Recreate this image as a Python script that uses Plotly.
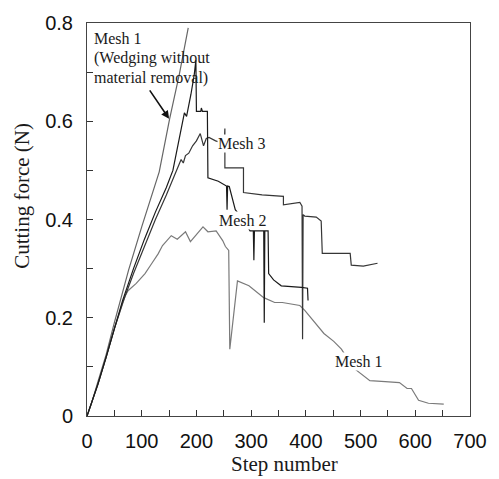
import plotly.graph_objects as go

# ---- data ----
wedge_steps = [0, 8, 20, 35, 50, 76, 100, 118, 132, 151, 169, 185]
wedge_force = [0, 0.025, 0.07, 0.125, 0.19, 0.297, 0.385, 0.45, 0.497, 0.605, 0.697, 0.79]

mesh1_steps = [0, 8, 20, 35, 50, 70, 75, 90, 106, 118, 130, 138, 146, 154, 165, 172, 180, 189,
               200, 212, 221, 236, 248, 253, 259, 261, 275, 296, 323, 343, 357, 389, 398, 416,
               433, 451, 465, 487, 517, 545, 571, 585, 593, 606, 624, 652]
mesh1_force = [0, 0.025, 0.065, 0.12, 0.178, 0.245, 0.255, 0.27, 0.29, 0.31, 0.33, 0.347, 0.358,
               0.367, 0.36, 0.368, 0.375, 0.355, 0.37, 0.385, 0.375, 0.377, 0.357, 0.345, 0.337,
               0.136, 0.275, 0.265, 0.241, 0.231, 0.231, 0.225, 0.215, 0.19, 0.168, 0.152, 0.136,
               0.098, 0.072, 0.07, 0.068, 0.056, 0.056, 0.032, 0.026, 0.024]

mesh2_steps = [0, 8, 20, 35, 50, 65, 85, 105, 125, 145, 157, 168, 178, 182, 185, 190, 196, 199,
               200, 208, 209, 211, 220, 221, 240, 253, 255, 256, 257, 260, 271, 285, 298, 304,
               305, 306, 323, 324, 325, 331, 332, 341, 355, 392, 403, 404]
mesh2_force = [0, 0.025, 0.065, 0.12, 0.18, 0.235, 0.30, 0.36, 0.415, 0.465, 0.50, 0.56, 0.617,
               0.61, 0.625, 0.655, 0.695, 0.724, 0.62, 0.62, 0.627, 0.62, 0.62, 0.485, 0.478,
               0.47, 0.468, 0.42, 0.468, 0.467, 0.42, 0.40, 0.377, 0.377, 0.317, 0.377, 0.377,
               0.19, 0.377, 0.377, 0.29, 0.277, 0.265, 0.262, 0.26, 0.235]

mesh3_steps = [0, 8, 20, 35, 50, 65, 85, 105, 125, 145, 160, 172, 176, 180, 186, 193, 200, 207,
               213, 218, 223, 235, 251, 252, 252, 286, 286, 320, 359, 359, 389, 393, 394, 395,
               398, 419, 428, 430, 481, 483, 505, 531]
mesh3_force = [0, 0.025, 0.065, 0.12, 0.178, 0.23, 0.29, 0.345, 0.40, 0.45, 0.49, 0.522, 0.515,
               0.53, 0.535, 0.55, 0.56, 0.575, 0.55, 0.565, 0.567, 0.56, 0.555, 0.585, 0.505,
               0.505, 0.455, 0.45, 0.447, 0.43, 0.435, 0.427, 0.156, 0.41, 0.407, 0.405, 0.397,
               0.331, 0.331, 0.307, 0.305, 0.311]

x_ticks = [0, 100, 200, 300, 400, 500, 600, 700]
x_ticktext = ["0", "100", "200", "300", "400", "500", "600", "700"]
y_ticks = [0, 0.2, 0.4, 0.6, 0.8]
y_ticktext = ["0", "0.2", "0.4", "0.6", "0.8"]

fig = go.Figure()
series = [
    (mesh1_steps, mesh1_force, "#7a7a7a"),
    (wedge_steps, wedge_force, "#666666"),
    (mesh3_steps, mesh3_force, "#363636"),
    (mesh2_steps, mesh2_force, "#1a1a1a"),
]
for xs, ys, col in series:
    fig.add_trace(go.Scatter(x=xs, y=ys, mode="lines", line=dict(color=col, width=1.2),
                             hoverinfo="skip", showlegend=False))

serif = "Liberation Serif, Times New Roman, serif"
sans = "Liberation Sans, Arial, sans-serif"

ann = [
    dict(x=9.4, y=0.768, text="Mesh 1"),
    dict(x=9.4, y=0.728, text="(Wedging without"),
    dict(x=9.4, y=0.688, text="material removal)"),
]
annotations = []
for a in ann:
    annotations.append(dict(x=a["x"], y=a["y"], xref="x", yref="y", text=a["text"],
                            showarrow=False, xanchor="left", yanchor="middle",
                            font=dict(family=serif, size=16, color="#1a1a1a")))
for txt, xx, yy in [("Mesh 3", 237.4, 0.5546), ("Mesh 2", 239.2, 0.397), ("Mesh 1", 451, 0.1117)]:
    annotations.append(dict(x=xx, y=yy, xref="x", yref="y", text=txt, showarrow=False,
                            xanchor="left", yanchor="middle", bgcolor="white", borderpad=0,
                            font=dict(family=serif, size=16, color="#1a1a1a")))
annotations.append(dict(x=150, y=0.605, ax=112.8, ay=0.666, xref="x", yref="y", axref="x",
                        ayref="y", text="", showarrow=True, arrowhead=2, arrowsize=1,
                        arrowwidth=1.6, arrowcolor="#111"))
annotations.append(dict(x=0.5165, y=-0.122, xref="paper", yref="paper", text="Step number",
                        showarrow=False, xanchor="center", yanchor="middle",
                        font=dict(family=serif, size=21, color="#1a1a1a")))
annotations.append(dict(x=-0.17, y=0.56, xref="paper", yref="paper", text="Cutting force (N)",
                        textangle=-90, showarrow=False, xanchor="center", yanchor="middle",
                        font=dict(family=serif, size=21, color="#1a1a1a")))

fig.update_layout(
    width=499, height=479,
    margin=dict(l=87, r=19, t=15, b=63),
    paper_bgcolor="white", plot_bgcolor="white",
    annotations=annotations,
    xaxis=dict(range=[0, 700], tickvals=x_ticks, ticktext=x_ticktext, ticks="inside",
               ticklen=6, tickwidth=1, tickcolor="#333", showline=True, linecolor="#444",
               linewidth=1, mirror=True, showgrid=False, zeroline=False, ticklabelstandoff=7,
               tickfont=dict(family=sans, size=20, color="#111"),
               minor=dict(dtick=50, tick0=0, ticks="inside", ticklen=6, tickwidth=1,
                          tickcolor="#333", showgrid=False)),
    yaxis=dict(range=[0, 0.8], tickvals=y_ticks, ticktext=y_ticktext, ticks="inside",
               ticklen=6, tickwidth=1, tickcolor="#333", showline=True, linecolor="#444",
               linewidth=1, mirror=True, showgrid=False, zeroline=False, ticklabelstandoff=9,
               tickfont=dict(family=sans, size=20, color="#111"),
               minor=dict(dtick=0.1, tick0=0, ticks="inside", ticklen=6, tickwidth=1,
                          tickcolor="#333", showgrid=False)),
)

fig.write_html("out.html")
